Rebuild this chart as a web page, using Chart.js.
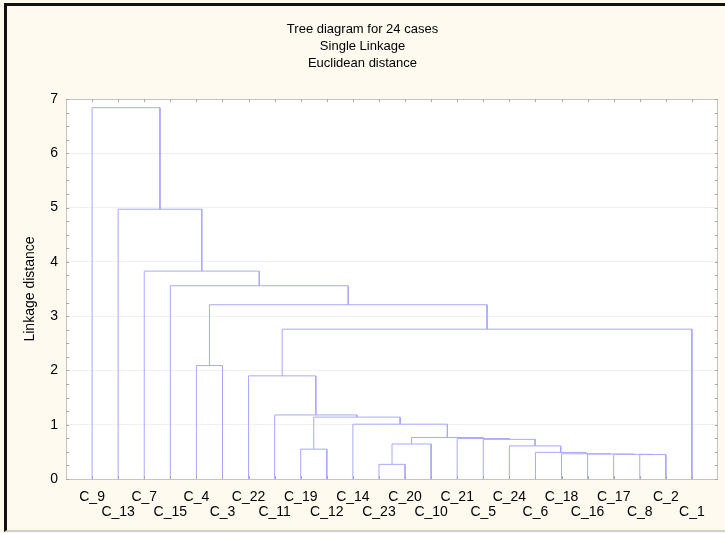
<!DOCTYPE html>
<html>
<head>
<meta charset="utf-8">
<script src="https://cdn.jsdelivr.net/npm/chart.js@4.4.1/dist/chart.umd.min.js"></script>
<style>
    html, body { margin: 0; padding: 0; background: #fffaf0; }
    #wrap { position: relative; width: 725px; height: 533px; overflow: hidden; }
    #tree { position: absolute; left: 0; top: 0; }
    #frame {
        position: absolute; left: 4px; top: 3px; right: 0; bottom: 1px;
        border-top: 3px solid #111; border-left: 3px solid #111; border-bottom: 2px solid #cfcfcf;
        pointer-events: none;
    }
</style>
</head>
<body>
<div id="wrap">
    <canvas id="tree" width="725" height="533"></canvas>
    <div id="frame"></div>
</div>
<script>
// cases in the order they appear along the axis
const leaves = ['C_9', 'C_13', 'C_7', 'C_15', 'C_4', 'C_3', 'C_22', 'C_11', 'C_19', 'C_12', 'C_14', 'C_23',
    'C_20', 'C_10', 'C_21', 'C_5', 'C_24', 'C_6', 'C_18', 'C_16', 'C_17', 'C_8', 'C_2', 'C_1'];

// linkage table: ids 0-23 are the leaves above, merge k gets id 24 + k
const mergeLeft = [11, 21, 20, 19, 18, 17, 8, 16, 24, 15, 14, 32, 10, 30, 7, 6, 4, 39, 40, 3, 2, 1, 0];
const mergeRight = [12, 22, 25, 26, 27, 28, 9, 29, 13, 31, 33, 34, 35, 36, 37, 38, 5, 23, 41, 42, 43, 44, 45];
const mergeHeight = [0.27, 0.45, 0.455, 0.46, 0.465, 0.49, 0.55, 0.61, 0.645, 0.73, 0.745, 0.765,
    1.01, 1.14, 1.18, 1.90, 2.09, 2.76, 3.21, 3.56, 3.83, 4.97, 6.84];

const titleLines = ['Tree diagram for 24 cases', 'Single Linkage', 'Euclidean distance'];
const yMax = 7;

const FONT = "'Liberation Sans', Arial, sans-serif";
const LINE = '#a8a8ff';

// position of every node (leaf or merge) along x, and its height
let nodeX = leaves.map((c, i) => i + 1);
let nodeH = leaves.map(() => 0);
mergeLeft.forEach((l, k) => {
    nodeX.push((nodeX[l] + nodeX[mergeRight[k]]) / 2);
    nodeH.push(mergeHeight[k]);
});

// one little "n" shaped line per merge
let datasets = mergeLeft.map((l, k) => {
    let r = mergeRight[k];
    return {
        data: [
            {x: nodeX[l], y: nodeH[l]},
            {x: nodeX[l], y: mergeHeight[k]},
            {x: nodeX[r], y: mergeHeight[k]},
            {x: nodeX[r], y: nodeH[r]}
        ],
        borderColor: LINE,
        borderWidth: 1,
        pointRadius: 0,
        tension: 0,
        fill: false
    };
});

const plotFrame = {
    id: 'plotFrame',
    beforeDraw(chart) {
        let a = chart.chartArea;
        let ctx = chart.ctx;
        ctx.save();
        ctx.fillStyle = '#ffffff';
        ctx.fillRect(a.left, a.top, a.right - a.left, a.bottom - a.top);
        ctx.restore();
    },
    afterDraw(chart) {
        let a = chart.chartArea;
        let ctx = chart.ctx;
        let xs = chart.scales.x, ys = chart.scales.y;
        ctx.save();
        ctx.strokeStyle = '#c4c4c4';
        ctx.lineWidth = 1;
        ctx.strokeRect(a.left + 0.5, a.top + 0.5, a.right - a.left - 1, a.bottom - a.top);
        // small inward ticks
        ctx.strokeStyle = '#a8a8a8';
        ctx.beginPath();
        for (let v = 0; v <= yMax; v += 0.25) {
            let py = Math.round(ys.getPixelForValue(v)) + 0.5;
            ctx.moveTo(a.left, py); ctx.lineTo(a.left + 3, py);
            ctx.moveTo(a.right, py); ctx.lineTo(a.right - 3, py);
        }
        leaves.forEach((c, i) => {
            let px = Math.round(xs.getPixelForValue(i + 1)) + 0.5;
            ctx.moveTo(px, a.top); ctx.lineTo(px, a.top + 3);
            ctx.moveTo(px, a.bottom); ctx.lineTo(px, a.bottom - 3);
        });
        ctx.stroke();
        ctx.restore();
    }
};

new Chart(document.getElementById('tree'), {
    type: 'line',
    data: { datasets: datasets },
    options: {
        responsive: false,
        animation: false,
        devicePixelRatio: 1,
        layout: { padding: { left: 7, right: 7, top: 0, bottom: 0 } },
        scales: {
            x: {
                type: 'linear',
                min: 0,
                max: leaves.length + 1,
                afterBuildTicks: (scale) => {
                    scale.ticks = leaves.map((c, i) => ({ value: i + 1 }));
                },
                afterFit: (scale) => { scale.height = 54; },
                grid: { display: false },
                border: { display: false },
                ticks: {
                    autoSkip: false,
                    maxRotation: 0,
                    padding: 2,
                    color: '#000',
                    font: { family: FONT, size: 14, lineHeight: 1.12 },
                    callback: (v) => {
                        let i = Math.round(v) - 1;
                        return i % 2 === 0 ? [leaves[i]] : ['', leaves[i]];
                    }
                }
            },
            y: {
                min: 0,
                max: yMax,
                afterFit: (scale) => { scale.width = 59; },
                grid: { color: '#f0f0f0', drawTicks: false },
                border: { display: false },
                ticks: {
                    stepSize: 1,
                    padding: 8,
                    color: '#000',
                    font: { family: FONT, size: 14 }
                },
                title: {
                    display: true,
                    text: 'Linkage distance',
                    color: '#000',
                    font: { family: FONT, size: 14, lineHeight: 1.2 },
                    padding: { top: 14.6, bottom: 0 }
                }
            }
        },
        plugins: {
            legend: { display: false },
            tooltip: { enabled: false },
            title: {
                display: true,
                text: titleLines,
                color: '#000',
                font: { family: FONT, size: 13, weight: 'normal', lineHeight: 1.285 },
                padding: { top: 21.2, bottom: 27.7 }
            }
        }
    },
    plugins: [plotFrame]
});
</script>
</body>
</html>
